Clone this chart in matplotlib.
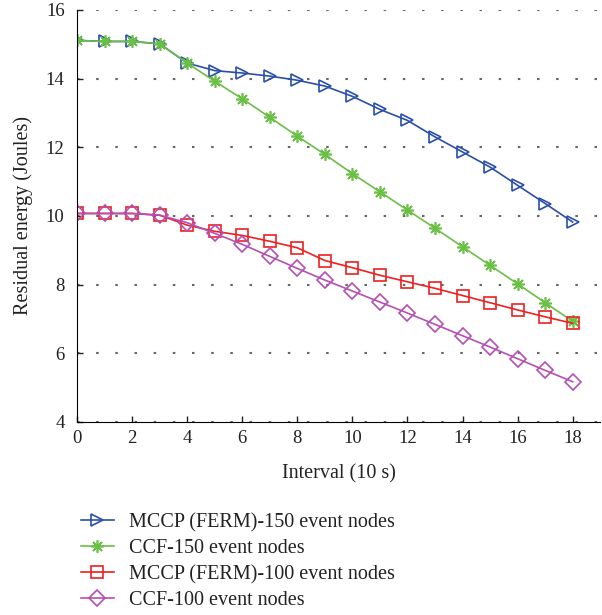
import numpy as np
import matplotlib
matplotlib.use('Agg')
import matplotlib.pyplot as plt

plt.rcParams['font.family'] = ['Liberation Serif', 'DejaVu Serif']

# intervalli (unita di 10 s)
interval = np.arange(0, 19)

# energia residua media (Joule)
mccp_150 = [15.11, 15.08, 15.08, 15.01, 14.45, 14.23, 14.16, 14.07, 13.95, 13.78,
            13.48, 13.10, 12.78, 12.30, 11.86, 11.42, 10.89, 10.36, 9.82]
ccf_150 = [15.11, 15.08, 15.08, 15.01, 14.45, 13.92, 13.41, 12.87, 12.32, 11.79,
           11.23, 10.70, 10.17, 9.64, 9.10, 8.56, 8.02, 7.47, 6.93]
mccp_100 = [10.07, 10.07, 10.07, 10.02, 9.73, 9.55, 9.43, 9.26, 9.07, 8.70,
            8.49, 8.27, 8.08, 7.89, 7.68, 7.47, 7.26, 7.06, 6.87]
ccf_100 = [10.07, 10.07, 10.07, 10.02, 9.80, 9.49, 9.17, 8.82, 8.47, 8.13,
           7.81, 7.49, 7.17, 6.84, 6.51, 6.18, 5.84, 5.50, 5.17]

labels = ['MCCP (FERM)-150 event nodes', 'CCF-150 event nodes',
          'MCCP (FERM)-100 event nodes', 'CCF-100 event nodes']

fig = plt.figure(figsize=(6.02, 6.15), dpi=100)
ax = fig.add_axes([0.128, 0.314, 0.869, 0.670])

ax.plot(interval, mccp_150, color='#2a4fa8', lw=1.2, marker='>', ms=9,
        mfc='none', mew=1.2, label=labels[0])
ax.plot(interval, ccf_150, color='#6abf45', lw=1.2, marker=(8, 2, 0), ms=9,
        mew=1.2, label=labels[1])
ax.plot(interval, mccp_100, color='#ee2020', lw=1.2, marker='s', ms=8,
        mfc='none', mew=1.2, label=labels[2])
ax.plot(interval, ccf_100, color='#b44fb4', lw=1.2, marker='D', ms=8,
        mfc='none', mew=1.2, label=labels[3])

ax.set_xlim(0, 19)
ax.set_ylim(4, 16)
ax.set_xticks(np.arange(0, 19, 2))
ax.set_yticks(np.arange(4, 17, 2))
ax.tick_params(direction='in', labelsize=13.5, length=4, width=1, colors='#222222')
ax.tick_params(axis='y', pad=9)
ax.tick_params(axis='x', pad=6)
ax.yaxis.grid(True, linestyle=(0, (1.2, 8)), color='#666666', lw=1.5)
ax.spines['top'].set_visible(False)
ax.spines['right'].set_visible(False)

ax.set_xlabel('Interval (10 s)', fontsize=14.5, labelpad=12, color='#222222')
ax.set_ylabel('Residual energy (Joules)', fontsize=14.5, labelpad=9, color='#222222')

fig.legend(loc='upper left', bbox_to_anchor=(0.105, 0.195), frameon=False,
           fontsize=14.5, handlelength=1.6, labelspacing=0.33, handletextpad=0.75,
           labelcolor='#222222')

plt.savefig('out.png', dpi=100)
